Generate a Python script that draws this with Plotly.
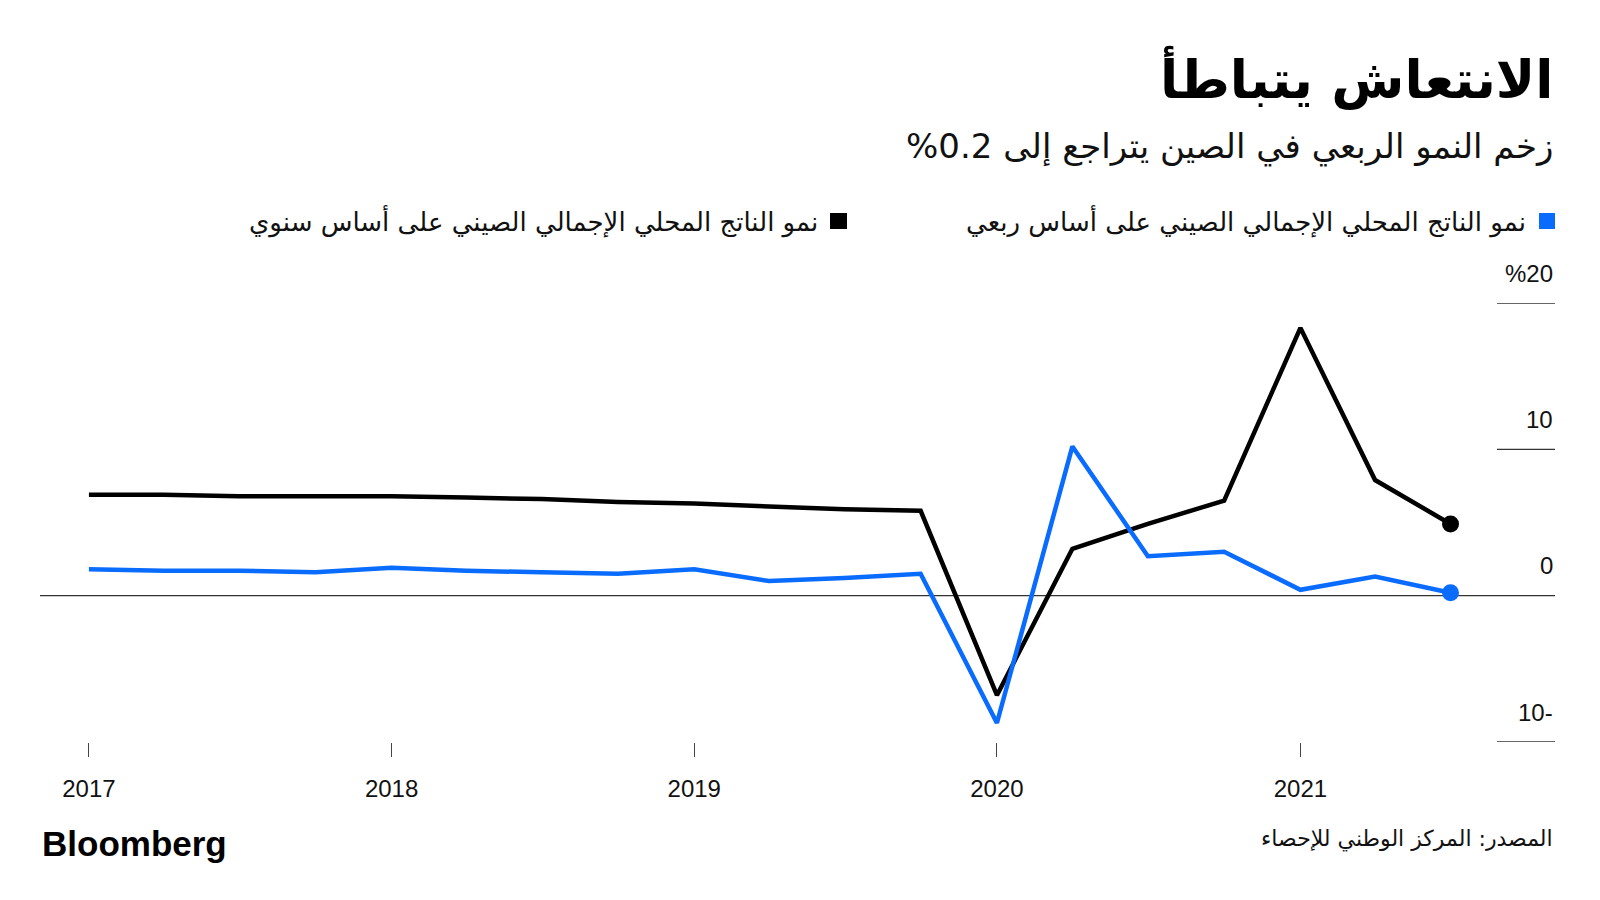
import plotly.graph_objects as go

# quarterly GDP growth, China (%)
quarters = ["2017-01-01", "2017-04-01", "2017-07-01", "2017-10-01",
            "2018-01-01", "2018-04-01", "2018-07-01", "2018-10-01",
            "2019-01-01", "2019-04-01", "2019-07-01", "2019-10-01",
            "2020-01-01", "2020-04-01", "2020-07-01", "2020-10-01",
            "2021-01-01", "2021-04-01", "2021-07-01"]
yoy = [6.9, 6.9, 6.8, 6.8, 6.8, 6.7, 6.6, 6.4, 6.3, 6.1, 5.9, 5.8,
       -6.8, 3.2, 4.9, 6.5, 18.3, 7.9, 4.9]
qoq = [1.8, 1.7, 1.7, 1.6, 1.9, 1.7, 1.6, 1.5, 1.8, 1.0, 1.2, 1.5,
       -8.7, 10.2, 2.7, 3.0, 0.4, 1.3, 0.2]

years = ["2017-01-01", "2018-01-01", "2019-01-01", "2020-01-01", "2021-01-01"]
year_labels = ["2017", "2018", "2019", "2020", "2021"]
y_ticks = [20, 10, 0, -10]
y_tick_labels = ["%20", "10", "0", "10-"]

title = "الانتعاش يتباطأ"
subtitle = "%0.2 " + "زخم النمو الربعي في الصين يتراجع إلى"
name_qoq = "نمو الناتج المحلي الإجمالي الصيني على أساس ربعي"
name_yoy = "نمو الناتج المحلي الإجمالي الصيني على أساس سنوي"
source = "المصدر: المركز الوطني للإحصاء"

BLUE = "#0a6cff"
BLACK = "#000000"
AR_FONT = "DejaVu Sans"
NUM_FONT = "Liberation Sans, Arial, sans-serif"

W, H = 1600, 900
OFF = 8  # page body margin pushes the figure by 8px
L, R, T, B = 40 - OFF, 45 + OFF, 303 - OFF, 158 + OFF


# screen pixel -> paper helpers for the text/legend placement
def pxx(px):
    return (px - OFF - L) / (W - L - R)


def pxy(py):
    return (H - B - (py - OFF)) / (H - T - B)


fig = go.Figure()

fig.add_trace(go.Scatter(x=quarters, y=yoy, mode="lines",
                         line=dict(color=BLACK, width=4.5)))
fig.add_trace(go.Scatter(x=quarters, y=qoq, mode="lines",
                         line=dict(color=BLUE, width=4.5)))
# end dots
fig.add_trace(go.Scatter(x=[quarters[-1]], y=[yoy[-1]], mode="markers",
                         marker=dict(color=BLACK, size=17)))
fig.add_trace(go.Scatter(x=[quarters[-1]], y=[qoq[-1]], mode="markers",
                         marker=dict(color=BLUE, size=17)))

shapes = []
annotations = []

# y axis: short rules on the right, labels above them
for v, lab in zip(y_ticks, y_tick_labels):
    x0 = 0 if v == 0 else pxx(1497)
    shapes.append(dict(type="line", xref="paper", yref="y", x0=x0, x1=1,
                       y0=v, y1=v, layer="below",
                       line=dict(color="#333333", width=1.3)))
    annotations.append(dict(text=lab, xref="paper", yref="y", x=1, y=v,
                            xanchor="right", yanchor="middle", yshift=30,
                            showarrow=False,
                            font=dict(family=NUM_FONT, size=24, color="#111111")))

# title + subtitle
annotations.append(dict(text="<b>" + title + "</b>", xref="paper", yref="paper",
                        x=1, y=pxy(78), xanchor="right", yanchor="middle",
                        showarrow=False,
                        font=dict(family=AR_FONT, size=53, color="#000000")))
annotations.append(dict(text=subtitle, xref="paper", yref="paper",
                        x=1, y=pxy(146), xanchor="right", yanchor="middle",
                        showarrow=False,
                        font=dict(family=AR_FONT, size=34, color="#111111")))

# legend
for sq_l, sq_r, txt_r, col, name in [(1539, 1555, 1528, BLUE, name_qoq),
                                     (830, 847, 820, BLACK, name_yoy)]:
    shapes.append(dict(type="rect", xref="paper", yref="paper",
                       x0=pxx(sq_l), x1=pxx(sq_r), y0=pxy(229), y1=pxy(213),
                       fillcolor=col, line=dict(width=0)))
    annotations.append(dict(text=name, xref="paper", yref="paper",
                            x=pxx(txt_r), y=pxy(221), xanchor="right",
                            yanchor="middle", showarrow=False,
                            font=dict(family=AR_FONT, size=26, color="#111111")))

# footer
annotations.append(dict(text="<b>Bloomberg</b>", xref="paper", yref="paper",
                        x=pxx(40), y=pxy(843), xanchor="left", yanchor="middle",
                        showarrow=False,
                        font=dict(family=NUM_FONT, size=35, color="#000000")))
annotations.append(dict(text=source, xref="paper", yref="paper",
                        x=1, y=pxy(839), xanchor="right", yanchor="middle",
                        showarrow=False,
                        font=dict(family=AR_FONT, size=22, color="#111111")))

fig.update_layout(
    width=W, height=H,
    margin=dict(l=L, r=R, t=T, b=B),
    paper_bgcolor="white", plot_bgcolor="white",
    showlegend=False,
    shapes=shapes,
    annotations=annotations,
    xaxis=dict(type="date", range=["2016-11-03", "2021-11-04"],
               tickvals=years, ticktext=year_labels,
               ticks="outside", ticklen=14, tickwidth=1, tickcolor="#444444",
               ticklabelstandoff=11,
               showgrid=False, showline=False, zeroline=False,
               tickfont=dict(family=NUM_FONT, size=24, color="#111111")),
    yaxis=dict(range=[-10, 20], visible=False, showgrid=False, zeroline=False),
)

fig.write_html("out.html")
